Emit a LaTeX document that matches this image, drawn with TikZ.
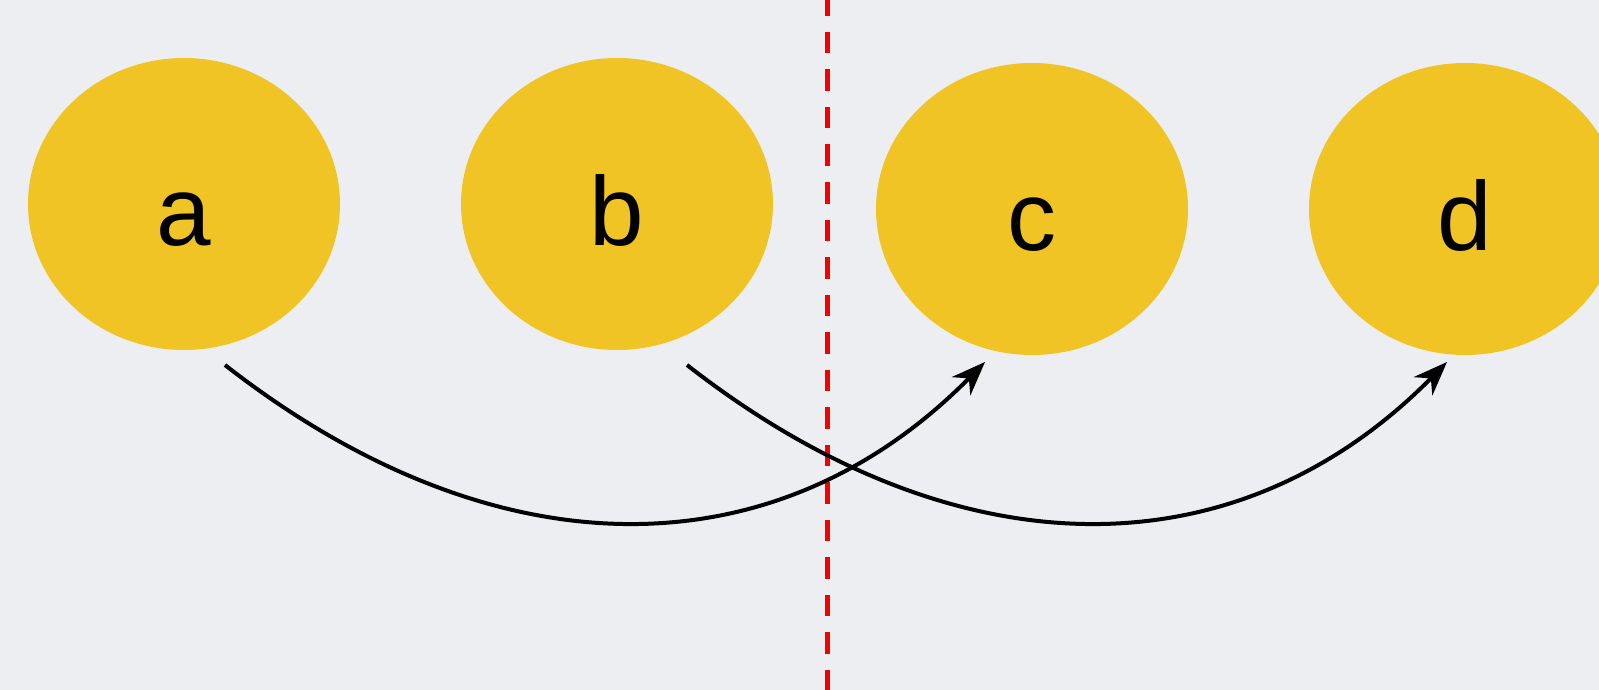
\documentclass[tikz,border=0pt]{standalone}
\usepackage{fontspec}
\setmainfont{Liberation Sans}
\usetikzlibrary{arrows.meta,positioning,shapes.geometric}
\definecolor{bgcol}{RGB}{236,238,242}
\definecolor{ballcol}{RGB}{240,196,36}
\definecolor{cutcol}{RGB}{245,0,0}

\begin{document}
\begin{tikzpicture}[x=1pt,y=-1pt, every node/.style={font=\fontsize{98}{100}\selectfont}, ball/.style={ellipse,fill=ballcol,minimum width=312pt,minimum height=292pt,inner sep=0pt,outer sep=0pt,text height=82pt,text depth=0pt}, arr/.style={-{Stealth[length=34pt,width=26pt,inset=11pt]},line width=4pt}, cut/.style={draw=cutcol,line width=5pt,dash pattern=on 21.5pt off 16pt,dash phase=5.5pt}]
\clip (0,0) rectangle (1599,690);
\fill[bgcol] (0,0) rectangle (1599,690);
\node[ball] (a) at (184,204) {a};
\node[ball,right=121pt of a] (b) {b};
\node[ball,right=103pt of b,yshift=-5pt] (c) {c};
\node[ball,right=121pt of c] (d) {d};
\coordinate (top) at (827,0); \coordinate (bottom) at (827,690);
\draw[cut] (top)--(bottom);
\draw[arr] ([shift={(41,15)}]a.south) .. controls +(269,210) and +(-210,213) .. ([shift={(-47,7)}]c.south);
\draw[arr] ([shift={(70,15)}]b.south) .. controls +(269,210) and +(-210,213) .. ([shift={(-18,7)}]d.south);
\end{tikzpicture}
\end{document}
